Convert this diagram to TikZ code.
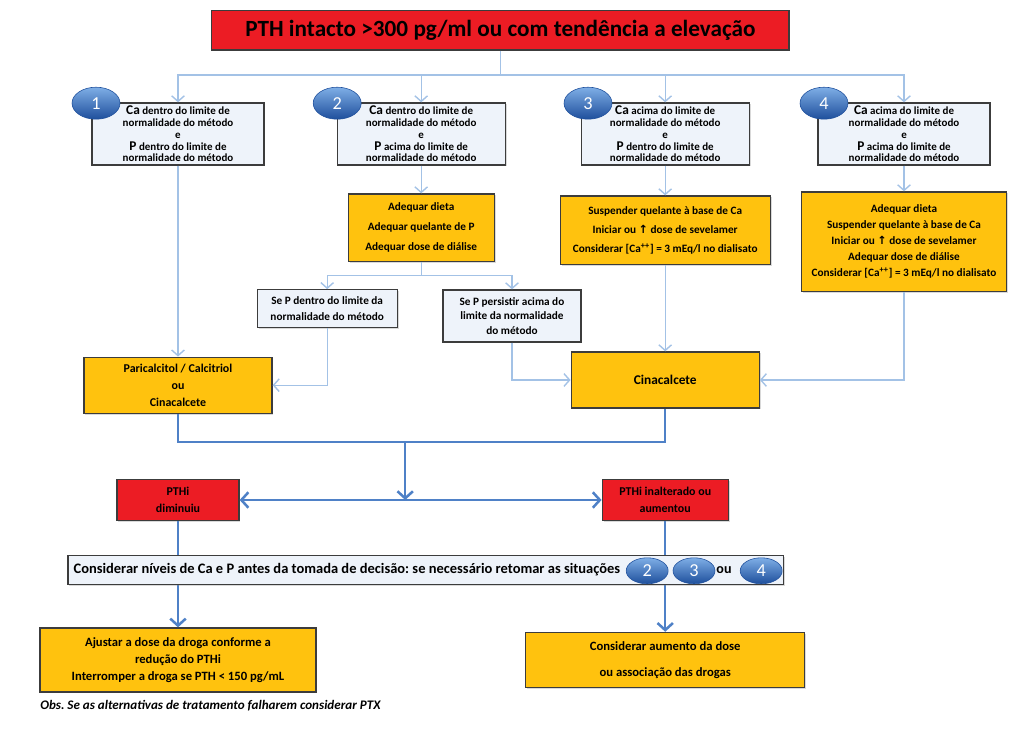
\documentclass[tikz,border=0pt]{standalone}
\usepackage{fontspec}
\setmainfont{Carlito}
\newfontfamily\symfont{DejaVu Sans}
\usepackage{xcolor}
\usetikzlibrary{shapes.geometric, arrows.meta, shadows}
\definecolor{customRed}{HTML}{EC1C24}
\definecolor{customYellow}{HTML}{FFC20E}
\definecolor{customPale}{HTML}{EEF3FA}
\definecolor{customBorder}{HTML}{3C3C3C}
\definecolor{customLine}{HTML}{A3C2E6}
\definecolor{customDarkLine}{HTML}{4F81C7}
\definecolor{customBadgeTop}{HTML}{7EAEE6}
\definecolor{customBadgeBottom}{HTML}{1E4F9C}
\newcommand{\bigLetter}[1]{{\fontsize{9.5}{9.5}\selectfont #1}}
\newcommand{\upArrow}{{\symfont\bfseries ↑}}
\frenchspacing

\begin{document}
\begin{tikzpicture} [
    caseNode/.style={rectangle, draw=customBorder, fill=customPale, line width=0.9pt, inner sep=2pt, align=center, font=\fontsize{7.8}{8.4}\selectfont\bfseries, drop shadow={shadow xshift=1pt, shadow yshift=-1pt, opacity=0.3}},
    actionNode/.style={caseNode, fill=customYellow, font=\fontsize{8}{13}\selectfont\bfseries},
    alertNode/.style={caseNode, fill=customRed, font=\fontsize{8.5}{12}\selectfont\bfseries},
    badge/.style={ellipse, draw=customBadgeBottom, top color=customBadgeTop, bottom color=customBadgeBottom, minimum width=1.2cm, minimum height=0.8cm, inner sep=0pt, text=white, font=\fontsize{13}{13}\selectfont},
    smallBadge/.style={badge, minimum width=1.05cm, minimum height=0.65cm},
    thinLine/.style={line width=1pt, color=customLine},
    arrow/.style={thinLine, -{Straight Barb[length=4pt, width=9pt]}},
    thickLine/.style={line width=1.8pt, color=customDarkLine},
    thickArrow/.style={thickLine, -{Straight Barb[length=5pt, width=11pt]}}
]
    \useasboundingbox (0,0) rectangle (25.6,-18.675);

    % top
    \node[alertNode, minimum width=14.43cm, minimum height=0.98cm, font=\fontsize{16.5}{18}\selectfont\bfseries] (title) at (12.51,-0.76) {PTH intacto >300 pg/ml ou com tendência a elevação};
    \coordinate (top) at (12.51,-1.88);

    % the four situations
    \node[caseNode, minimum width=4.3cm, minimum height=1.55cm] (c1) at (4.45,-3.35) {\bigLetter{Ca} dentro do limite de\\normalidade do método\\e\\\bigLetter{P} dentro do limite de\\normalidade do método};
    \node[badge] (b1) at (2.4,-2.58) {1};
    \node[caseNode, minimum width=4.2cm, minimum height=1.55cm] (c2) at (10.53,-3.35) {\bigLetter{Ca} dentro do limite de\\normalidade do método\\e\\\bigLetter{P} acima do limite de\\normalidade do método};
    \node[badge] (b2) at (8.43,-2.58) {2};
    \node[caseNode, minimum width=4.2cm, minimum height=1.55cm] (c3) at (16.63,-3.35) {\bigLetter{Ca} acima do limite de\\normalidade do método\\e\\\bigLetter{P} dentro do limite de\\normalidade do método};
    \node[badge] (b3) at (14.7,-2.58) {3};
    \node[caseNode, minimum width=4.3cm, minimum height=1.55cm] (c4) at (22.6,-3.35) {\bigLetter{Ca} acima do limite de\\normalidade do método\\e\\\bigLetter{P} acima do limite de\\normalidade do método};
    \node[badge] (b4) at (20.6,-2.58) {4};

    % measures
    \node[actionNode, minimum width=3.65cm, minimum height=1.68cm, font=\fontsize{8}{14}\selectfont\bfseries] (a2) at (10.53,-5.69) {Adequar dieta\\Adequar quelante de P\\Adequar dose de diálise};
    \node[actionNode, minimum width=5.25cm, minimum height=1.72cm, font=\fontsize{8}{13.5}\selectfont\bfseries] (a3) at (16.63,-5.76) {Suspender quelante à base de Ca\\Iniciar ou \upArrow{} dose de sevelamer\\Considerar [Ca\textsuperscript{++}] = 3 mEq/l no dialisato};
    \node[actionNode, minimum width=5.12cm, minimum height=2.48cm, font=\fontsize{8}{11.4}\selectfont\bfseries] (a4) at (22.6,-6.04) {Adequar dieta\\Suspender quelante à base de Ca\\Iniciar ou \upArrow{} dose de sevelamer\\Adequar dose de diálise\\Considerar [Ca\textsuperscript{++}] = 3 mEq/l no dialisato};
    \coordinate (fork) at (10.53,-6.88);
    \node[caseNode, minimum width=3.5cm, minimum height=0.95cm, font=\fontsize{8}{11}\selectfont\bfseries] (s1) at (8.18,-7.72) {Se P dentro do limite da\\normalidade do método};
    \node[caseNode, minimum width=3.45cm, minimum height=1.3cm, font=\fontsize{8}{10.5}\selectfont\bfseries] (s2) at (12.8,-7.9) {Se P persistir acima do\\limite da normalidade\\do método};

    % drugs
    \node[actionNode, minimum width=4.7cm, minimum height=1.4cm, font=\fontsize{8.5}{12}\selectfont\bfseries] (p1) at (4.45,-9.63) {Paricalcitol / Calcitriol\\ou\\Cinacalcete};
    \node[actionNode, minimum width=4.7cm, minimum height=1.4cm, font=\fontsize{9.5}{12}\selectfont\bfseries] (cin) at (16.63,-9.5) {Cinacalcete};
    \coordinate (merge) at (10.13,-11.05);

    % result
    \node[alertNode, minimum width=3.05cm, minimum height=1.03cm] (r1) at (4.45,-12.5) {PTHi\\diminuiu};
    \node[alertNode, minimum width=3.15cm, minimum height=1.03cm] (r2) at (16.63,-12.5) {PTHi inalterado ou\\aumentou};
    \node[actionNode, minimum width=6.9cm, minimum height=1.6cm, font=\fontsize{9}{12}\selectfont\bfseries] (y1) at (4.45,-16.5) {Ajustar a dose da droga conforme a\\redução do PTHi\\Interromper a droga se PTH < 150 pg/mL};
    \node[actionNode, minimum width=6.98cm, minimum height=1.38cm, font=\fontsize{9}{18}\selectfont\bfseries] (y2) at (16.63,-16.5) {Considerar aumento da dose\\ou associação das drogas};

    \draw [thinLine] (title.south) -- (top);
    \draw [arrow] (top) -| (c1.north);
    \draw [arrow] (top) -| (c2.north);
    \draw [arrow] (top) -| (c3.north);
    \draw [arrow] (top) -| (c4.north);
    \draw [arrow] (c1) -- (p1);
    \draw [arrow] (c2) -- (a2);
    \draw [arrow] (c3) -- (a3);
    \draw [arrow] (c4) -- (a4);
    \draw [thinLine] (a2.south) -- (fork);
    \draw [arrow] (fork) -| (s1.north);
    \draw [arrow] (fork) -| (s2.north);
    \draw [arrow] (s1.south) |- (p1.east);
    \draw [arrow] (s2.south) |- (cin.west);
    \draw [arrow] (a3) -- (cin);
    \draw [arrow] (a4.south) |- (cin.east);
    \draw [thickLine] (p1.south) |- (merge) -| (cin.south);
    \draw [thickArrow] (merge) -- (merge |- r1);
    \draw [thickArrow] (merge |- r1) -- (r1);
    \draw [thickArrow] (merge |- r1) -- (r2);
    \draw [thickArrow] (r1) -- (y1);
    \draw [thickArrow] (r2) -- (y2);

    % decision bar over the lines
    \node[caseNode, minimum width=17.88cm, minimum height=0.72cm, text width=17.6cm, align=flush left, font=\fontsize{10.3}{11}\selectfont\bfseries] (bar) at (10.64,-14.25) {Considerar níveis de Ca e P antes da tomada de decisão: se necessário retomar as situações};
    \node[smallBadge] (d2) at (16.18,-14.27) {2};
    \node[smallBadge] (d3) at (17.35,-14.27) {3};
    \node[font=\fontsize{10}{11}\selectfont\bfseries] (ou) at (18.1,-14.25) {ou};
    \node[smallBadge] (d4) at (19.03,-14.27) {4};

    \node[anchor=west, inner sep=0pt, font=\fontsize{9.3}{10}\selectfont\bfseries\itshape] (obs) at (1.0,-17.63) {Obs. Se as alternativas de tratamento falharem considerar PTX};
\end{tikzpicture}
\end{document}
